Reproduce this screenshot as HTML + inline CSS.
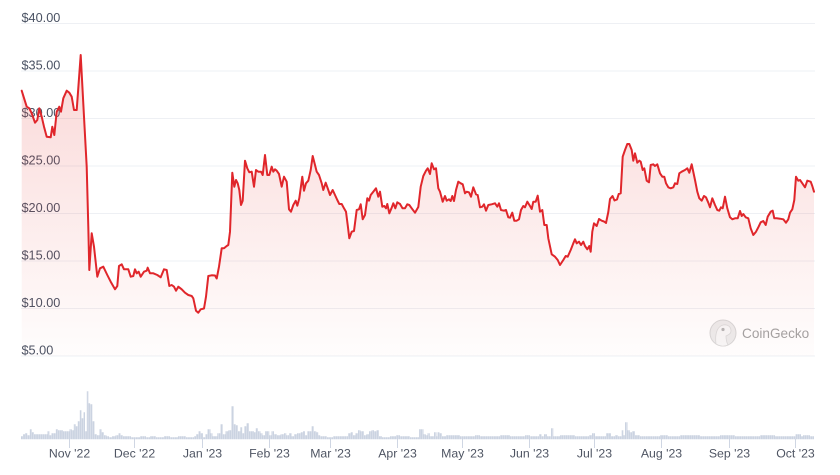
<!DOCTYPE html>
<html>
<head>
<meta charset="utf-8">
<style>
  html,body{margin:0;padding:0;background:#fff;}
  svg{display:block;}
  text{font-family:"Liberation Sans",Arial,sans-serif;}
</style>
</head>
<body>
<svg width="840" height="475" viewBox="0 0 840 475" xmlns="http://www.w3.org/2000/svg">
  <defs>
    <linearGradient id="fillg" x1="0" y1="55" x2="0" y2="357" gradientUnits="userSpaceOnUse">
      <stop offset="0" stop-color="#e53935" stop-opacity="0.2"/>
      <stop offset="1" stop-color="#e53935" stop-opacity="0.01"/>
    </linearGradient>
    <pattern id="bars" x="21" y="0" width="2.17" height="475" patternUnits="userSpaceOnUse">
      <rect x="0" y="0" width="1.9" height="475" fill="#cbd3e1"/>
    </pattern>
  </defs>

  <!-- gridlines -->
  <g stroke="#eef0f4" stroke-width="1">
    <line x1="21" y1="23.5" x2="815" y2="23.5"/>
    <line x1="21" y1="71" x2="815" y2="71"/>
    <line x1="21" y1="118.5" x2="815" y2="118.5"/>
    <line x1="21" y1="166" x2="815" y2="166"/>
    <line x1="21" y1="213.5" x2="815" y2="213.5"/>
    <line x1="21" y1="261" x2="815" y2="261"/>
    <line x1="21" y1="308.5" x2="815" y2="308.5"/>
    <line x1="21" y1="356" x2="815" y2="356"/>
  </g>

  <!-- y labels -->
  <g fill="#4a5263" font-size="12.7">
    <text x="21.5" y="22">$40.00</text>
    <text x="21.5" y="69.5">$35.00</text>
    <text x="21.5" y="117">$30.00</text>
    <text x="21.5" y="164.5">$25.00</text>
    <text x="21.5" y="212">$20.00</text>
    <text x="21.5" y="259.5">$15.00</text>
    <text x="21.5" y="307">$10.00</text>
    <text x="21.5" y="354.5">$5.00</text>
  </g>

  <!-- CoinGecko watermark -->
  <g>
    <circle cx="723" cy="333" r="13" fill="#ececec" stroke="#d6d6d6" stroke-width="1"/>
    <path d="M716,344 C715,336 716,327 723,325 C728,324 731,327 731,331 C731,334 728,335 726,336 C726,340 727,343 728,345 C724,347 719,346 716,344 Z" fill="#f7f7f7" stroke="#d9d9d9" stroke-width="0.8"/>
    <circle cx="723" cy="329.5" r="1.6" fill="#b5b5b5"/>
    <text x="742" y="337.8" font-size="13.6" fill="#a3a3a3">CoinGecko</text>
  </g>

  <!-- price area fill -->
  <path fill="url(#fillg)" d="M21.7,356 L21.7,90.7 L26.7,106.7 L29.3,108.3 L31.7,113.3 L35,122.7 L37.3,120 L39.3,108.3 L41.7,116.7 L44,126.7 L46.7,136.7 L50.7,137.3 L52.3,126.7 L54.3,135 L56.7,111.7 L59.3,106.7 L61,111.7 L63.3,98.3 L66.7,90.7 L69.3,92.7 L71.7,96.7 L74,110 L76.7,110 L80.7,55 L84,116.7 L86.7,166.7 L88.3,226.7 L89.3,270 L91.7,233.3 L94,246.7 L97.3,276.7 L100,268.3 L103.3,266.7 L107.3,275 L110.7,281.7 L115,289.3 L117.3,286 L119,266 L121.7,264.3 L124,269.3 L128.3,269.3 L130.7,276.7 L133.3,276 L135,269.3 L136.7,273.3 L138.7,271.7 L140.7,276.7 L144,271.7 L146.7,270.7 L147.7,267.7 L150,273.3 L153.3,273.3 L157.3,275 L160.7,277.3 L164,269.3 L166.7,270 L169.3,286 L171.7,285 L174,286.7 L176,290.7 L178.3,286.7 L181.7,289.3 L185,292.7 L188.3,295 L191.7,296 L193.3,298.3 L196,310.7 L198.3,312.7 L200.7,309.3 L204,308.5 L206,296.7 L208.3,276 L211.7,275.3 L215,275.5 L216.7,278.5 L219,266.7 L221.7,248.3 L224,248.3 L226.7,246 L228.3,245 L230,231.7 L232.3,172.7 L234.3,186.7 L236,180 L237.7,183.3 L239.3,190 L241,205 L242.7,200.7 L245,160.7 L247.3,168.3 L249.3,172.3 L251.7,171.7 L254,186.7 L256,170 L258.3,171.7 L261,171.7 L262.7,175 L265,155 L267.3,175 L269.3,175 L271.7,166.7 L273.3,171.7 L275,169.3 L276.7,170.7 L279,174 L281.7,186.7 L284,176.7 L286.7,181.7 L289,209.3 L291,211.7 L293.3,205 L295.7,200.7 L297.3,205.7 L299.3,198.3 L302.3,176.7 L304,190.7 L306,183.3 L308.3,180.7 L310.7,170 L312.7,156 L315,165 L316.7,171.7 L319,175 L321.7,183.3 L323.3,190 L325.7,182.7 L328.3,190 L330,195 L332.7,190 L335,195 L337.3,200 L339.3,204 L341.7,204 L344,208.3 L346,211.7 L347.7,225 L349.3,238.3 L351.7,231.7 L354,231 L356.7,210 L359,209.3 L360.7,204.3 L362.7,219.3 L365,215 L367.3,198.3 L369,200.7 L370.7,195 L373.3,191.7 L376,188.3 L378.3,196.7 L380,191.7 L382.3,206.7 L384.3,206 L386,208.3 L387.3,204 L389.3,213.3 L391.7,207.7 L393.3,203.3 L395.3,208.3 L397.3,202.3 L400,204 L402.5,208.3 L405,208.3 L407.3,204.3 L409.3,205 L411.7,208.3 L415,212.7 L418.3,207 L420.7,186.7 L423.3,176 L426,170.7 L427.7,168.3 L430,174 L431.7,163.3 L434,169.3 L436,168.3 L438.3,188.3 L440,191.7 L442.7,201.7 L445,196 L446.7,200.7 L449,199.3 L450.7,201 L452.3,196 L454,201 L456,190 L458.3,181.7 L460.7,183.3 L462.7,184.3 L465,193.3 L466.7,191.7 L469,192.3 L471,196.7 L473.3,187.3 L476,194.3 L477.7,195 L480,207.3 L482.3,206.7 L484,204.3 L486,210.7 L488.3,205 L491.7,204.3 L495,203.3 L497.3,206.7 L499,203.3 L501,210 L504,210.7 L506,210 L508.3,217.3 L510,217.7 L512.3,212.7 L514.3,220.7 L516.7,220.7 L519,219.3 L521,210 L523.3,206 L525,207.3 L527.3,201.7 L530,206 L531.7,209 L533.3,201.7 L535.7,201.7 L537.7,195.7 L540,211.7 L542.3,210 L544.3,225 L546.7,225 L548.3,238.3 L551.7,254.3 L555,256.7 L557.7,260 L560,265 L563.3,260 L565.7,256 L567.7,256.7 L570.7,250 L573.3,243.3 L575,239.3 L576.7,243.3 L579,241.7 L581,245 L583.3,241.7 L585,246 L587.3,249.3 L589.3,246 L590.7,251.7 L592.3,231.7 L594,223.3 L596.7,226 L599,219 L601.7,220.7 L604,221.5 L606,223 L608.3,212 L610,199 L612.5,196 L614.5,200.5 L617,199.5 L618.7,194 L620.7,193.3 L622.7,156.7 L625,150 L627.3,144 L629.3,144 L631.7,150 L633.3,160.7 L635,153.3 L637.3,162.7 L639.3,160.7 L640.7,161.7 L642.7,170 L644.3,168.3 L646.7,180.7 L649,182.3 L650.7,165 L653.3,164.3 L655,166 L657.3,164.3 L660,173.3 L662.3,176.7 L664.3,176.7 L666,183.3 L668.3,187.3 L670.7,188.3 L673.3,187.3 L675,183.3 L677.3,184 L679.3,173.3 L681.7,171.7 L685,170 L687.3,168.3 L689.3,172.7 L691.7,164.3 L695,180 L697.3,191.7 L699.3,198.3 L701.7,200.7 L704,196 L706,197.3 L708.3,202.7 L710,207.3 L712.3,198.3 L715,205 L717.3,210 L719.3,210.7 L721,207.3 L722.7,208.3 L725,196.7 L727.3,208.3 L730,217.3 L732.3,219.3 L735,218.3 L737.7,218.3 L740,211 L741.7,216 L743.3,214 L745.7,217.3 L748.3,218.3 L750.7,228.3 L753.3,235 L756,231.7 L758.3,227.3 L760.7,222.3 L763.3,221 L765.7,225 L767.7,216.7 L770.7,211.7 L772.7,210.7 L774.3,218.3 L776.7,218.3 L780,218.7 L783.3,219.3 L786,222.7 L788.3,219.3 L790,212.7 L792.3,209.3 L794.3,200 L796,176.7 L798.3,180.7 L800,180 L802.3,183.3 L805,187.3 L807.3,180.7 L810.7,181.7 L812.3,186 L814,191.7 L814,356 Z"/>

  <!-- price line -->
  <polyline fill="none" stroke="#e0262b" stroke-width="2" stroke-linejoin="round" stroke-linecap="round" points="21.7,90.7 26.7,106.7 29.3,108.3 31.7,113.3 35,122.7 37.3,120 39.3,108.3 41.7,116.7 44,126.7 46.7,136.7 50.7,137.3 52.3,126.7 54.3,135 56.7,111.7 59.3,106.7 61,111.7 63.3,98.3 66.7,90.7 69.3,92.7 71.7,96.7 74,110 76.7,110 80.7,55 84,116.7 86.7,166.7 88.3,226.7 89.3,270 91.7,233.3 94,246.7 97.3,276.7 100,268.3 103.3,266.7 107.3,275 110.7,281.7 115,289.3 117.3,286 119,266 121.7,264.3 124,269.3 128.3,269.3 130.7,276.7 133.3,276 135,269.3 136.7,273.3 138.7,271.7 140.7,276.7 144,271.7 146.7,270.7 147.7,267.7 150,273.3 153.3,273.3 157.3,275 160.7,277.3 164,269.3 166.7,270 169.3,286 171.7,285 174,286.7 176,290.7 178.3,286.7 181.7,289.3 185,292.7 188.3,295 191.7,296 193.3,298.3 196,310.7 198.3,312.7 200.7,309.3 204,308.5 206,296.7 208.3,276 211.7,275.3 215,275.5 216.7,278.5 219,266.7 221.7,248.3 224,248.3 226.7,246 228.3,245 230,231.7 232.3,172.7 234.3,186.7 236,180 237.7,183.3 239.3,190 241,205 242.7,200.7 245,160.7 247.3,168.3 249.3,172.3 251.7,171.7 254,186.7 256,170 258.3,171.7 261,171.7 262.7,175 265,155 267.3,175 269.3,175 271.7,166.7 273.3,171.7 275,169.3 276.7,170.7 279,174 281.7,186.7 284,176.7 286.7,181.7 289,209.3 291,211.7 293.3,205 295.7,200.7 297.3,205.7 299.3,198.3 302.3,176.7 304,190.7 306,183.3 308.3,180.7 310.7,170 312.7,156 315,165 316.7,171.7 319,175 321.7,183.3 323.3,190 325.7,182.7 328.3,190 330,195 332.7,190 335,195 337.3,200 339.3,204 341.7,204 344,208.3 346,211.7 347.7,225 349.3,238.3 351.7,231.7 354,231 356.7,210 359,209.3 360.7,204.3 362.7,219.3 365,215 367.3,198.3 369,200.7 370.7,195 373.3,191.7 376,188.3 378.3,196.7 380,191.7 382.3,206.7 384.3,206 386,208.3 387.3,204 389.3,213.3 391.7,207.7 393.3,203.3 395.3,208.3 397.3,202.3 400,204 402.5,208.3 405,208.3 407.3,204.3 409.3,205 411.7,208.3 415,212.7 418.3,207 420.7,186.7 423.3,176 426,170.7 427.7,168.3 430,174 431.7,163.3 434,169.3 436,168.3 438.3,188.3 440,191.7 442.7,201.7 445,196 446.7,200.7 449,199.3 450.7,201 452.3,196 454,201 456,190 458.3,181.7 460.7,183.3 462.7,184.3 465,193.3 466.7,191.7 469,192.3 471,196.7 473.3,187.3 476,194.3 477.7,195 480,207.3 482.3,206.7 484,204.3 486,210.7 488.3,205 491.7,204.3 495,203.3 497.3,206.7 499,203.3 501,210 504,210.7 506,210 508.3,217.3 510,217.7 512.3,212.7 514.3,220.7 516.7,220.7 519,219.3 521,210 523.3,206 525,207.3 527.3,201.7 530,206 531.7,209 533.3,201.7 535.7,201.7 537.7,195.7 540,211.7 542.3,210 544.3,225 546.7,225 548.3,238.3 551.7,254.3 555,256.7 557.7,260 560,265 563.3,260 565.7,256 567.7,256.7 570.7,250 573.3,243.3 575,239.3 576.7,243.3 579,241.7 581,245 583.3,241.7 585,246 587.3,249.3 589.3,246 590.7,251.7 592.3,231.7 594,223.3 596.7,226 599,219 601.7,220.7 604,221.5 606,223 608.3,212 610,199 612.5,196 614.5,200.5 617,199.5 618.7,194 620.7,193.3 622.7,156.7 625,150 627.3,144 629.3,144 631.7,150 633.3,160.7 635,153.3 637.3,162.7 639.3,160.7 640.7,161.7 642.7,170 644.3,168.3 646.7,180.7 649,182.3 650.7,165 653.3,164.3 655,166 657.3,164.3 660,173.3 662.3,176.7 664.3,176.7 666,183.3 668.3,187.3 670.7,188.3 673.3,187.3 675,183.3 677.3,184 679.3,173.3 681.7,171.7 685,170 687.3,168.3 689.3,172.7 691.7,164.3 695,180 697.3,191.7 699.3,198.3 701.7,200.7 704,196 706,197.3 708.3,202.7 710,207.3 712.3,198.3 715,205 717.3,210 719.3,210.7 721,207.3 722.7,208.3 725,196.7 727.3,208.3 730,217.3 732.3,219.3 735,218.3 737.7,218.3 740,211 741.7,216 743.3,214 745.7,217.3 748.3,218.3 750.7,228.3 753.3,235 756,231.7 758.3,227.3 760.7,222.3 763.3,221 765.7,225 767.7,216.7 770.7,211.7 772.7,210.7 774.3,218.3 776.7,218.3 780,218.7 783.3,219.3 786,222.7 788.3,219.3 790,212.7 792.3,209.3 794.3,200 796,176.7 798.3,180.7 800,180 802.3,183.3 805,187.3 807.3,180.7 810.7,181.7 812.3,186 814,191.7"/>

  <!-- volume bars -->
  <path fill="url(#bars)" d="M21,439.3 V436.3 H23 V434.3 H25 V433.3 H27.5 V435.3 H29.8 V429.3 H31.8 V432.3 H34 V434.3 H47.5 V431.3 H49.5 V435.3 H51.5 V433.3 H55.8 V429.3 H58 V430.3 H63 V431.3 H69.5 V429.3 H71.8 V430.3 H73.8 V424.3 H75.8 V426.3 H77.8 V421.3 H79.8 V410.3 H81.5 V418.3 H83.3 V412.3 H85 V431.3 H86.8 V391.3 H88.5 V403.3 H90.3 V404.3 H92.5 V421.3 H94.5 V434.3 H97 V435.3 H99.5 V429.3 H101.7 V432.3 H104 V435.3 H106.5 V436.3 H109 V437.3 H112 V436.3 H115.5 V435.3 H118.5 V433.3 H120.5 V435.3 H123 V436.3 H131 V437.3 H140 V436.3 H146 V437.3 H150 V436.3 H156 V437.3 H164 V436.3 H170 V437.3 H178 V436.3 H186 V437.3 H194 V436.3 H196 V434.3 H198.3 V431.3 H200.5 V433.3 H203 V437.3 H205.5 V434.3 H207.5 V429.3 H210.5 V433.3 H212.5 V436.3 H217.3 V433.3 H220.5 V424.3 H222.8 V434.3 H225.5 V431.3 H228.3 V430.3 H231.5 V406.3 H233.8 V424.3 H235.8 V425.3 H238 V431.3 H240.3 V427.3 H242.3 V433.3 H244.3 V426.3 H246.5 V423.3 H249 V431.3 H254 V432.3 H255.8 V428.3 H258 V431.3 H260.5 V433.3 H262.5 V435.3 H265 V431.3 H269.3 V435.3 H271.5 V431.3 H274 V434.3 H277 V435.3 H280.5 V434.3 H284 V433.3 H286.3 V435.3 H289 V433.3 H291.5 V436.3 H294 V434.3 H297 V433.3 H300.5 V432.3 H303 V431.3 H305 V435.3 H307.3 V431.3 H311.5 V426.3 H313.8 V431.3 H316.3 V432.3 H318.3 V435.3 H320.5 V436.3 H327 V437.3 H333 V436.3 H348 V433.3 H350.5 V432.3 H353 V435.3 H355.5 V433.3 H358 V430.3 H360.5 V431.3 H364 V435.3 H366.3 V434.3 H369 V431.3 H371.5 V430.3 H374 V431.3 H376.3 V430.3 H379 V436.3 H382 V437.3 H390 V436.3 H396 V435.3 H400 V436.3 H410 V437.3 H419 V429.3 H423.5 V434.3 H425.8 V435.3 H427.5 V433.3 H429.8 V436.3 H434 V432.3 H436.5 V436.3 H437.5 V432.3 H439.5 V433.3 H442 V436.3 H446 V435.3 H460 V436.3 H475 V435.3 H480 V436.3 H500 V435.3 H510 V436.3 H525 V435.3 H530 V436.3 H539 V434.3 H541.5 V436.3 H544 V434.3 H547 V436.3 H551 V428.3 H553.3 V436.3 H560 V435.3 H575 V436.3 H589 V435.3 H592 V433.3 H595 V436.3 H606 V433.3 H611 V436.3 H615 V435.3 H618 V436.3 H621.5 V430.3 H623.3 V435.3 H625 V422.3 H627.5 V430.3 H629.8 V432.3 H632 V431.3 H635 V435.3 H640 V436.3 H660 V435.3 H668 V436.3 H680 V435.3 H700 V436.3 H720 V435.3 H735 V436.3 H760 V435.3 H775 V436.3 H795.5 V434.3 H801 V436.3 H803 V435.3 H810 V436.3 H814 V439.3 Z"/>

  <!-- x ticks -->
  <g stroke="#cfd6e3" stroke-width="1">
    <line x1="69.5" y1="439" x2="69.5" y2="448"/>
    <line x1="134.5" y1="439" x2="134.5" y2="448"/>
    <line x1="202.5" y1="439" x2="202.5" y2="448"/>
    <line x1="269.5" y1="439" x2="269.5" y2="448"/>
    <line x1="330.5" y1="439" x2="330.5" y2="448"/>
    <line x1="397.5" y1="439" x2="397.5" y2="448"/>
    <line x1="462.5" y1="439" x2="462.5" y2="448"/>
    <line x1="529.5" y1="439" x2="529.5" y2="448"/>
    <line x1="594.5" y1="439" x2="594.5" y2="448"/>
    <line x1="661.5" y1="439" x2="661.5" y2="448"/>
    <line x1="729.5" y1="439" x2="729.5" y2="448"/>
    <line x1="795.5" y1="439" x2="795.5" y2="448"/>
  </g>

  <!-- x labels -->
  <g fill="#4f5563" font-size="12.3" text-anchor="middle">
    <text x="69.5" y="457.5">Nov '22</text>
    <text x="134.5" y="457.5">Dec '22</text>
    <text x="202.5" y="457.5">Jan '23</text>
    <text x="269.5" y="457.5">Feb '23</text>
    <text x="330.5" y="457.5">Mar '23</text>
    <text x="397.5" y="457.5">Apr '23</text>
    <text x="462.5" y="457.5">May '23</text>
    <text x="529.5" y="457.5">Jun '23</text>
    <text x="594.5" y="457.5">Jul '23</text>
    <text x="661.5" y="457.5">Aug '23</text>
    <text x="729.5" y="457.5">Sep '23</text>
    <text x="795.5" y="457.5">Oct '23</text>
  </g>
</svg>
</body>
</html>
